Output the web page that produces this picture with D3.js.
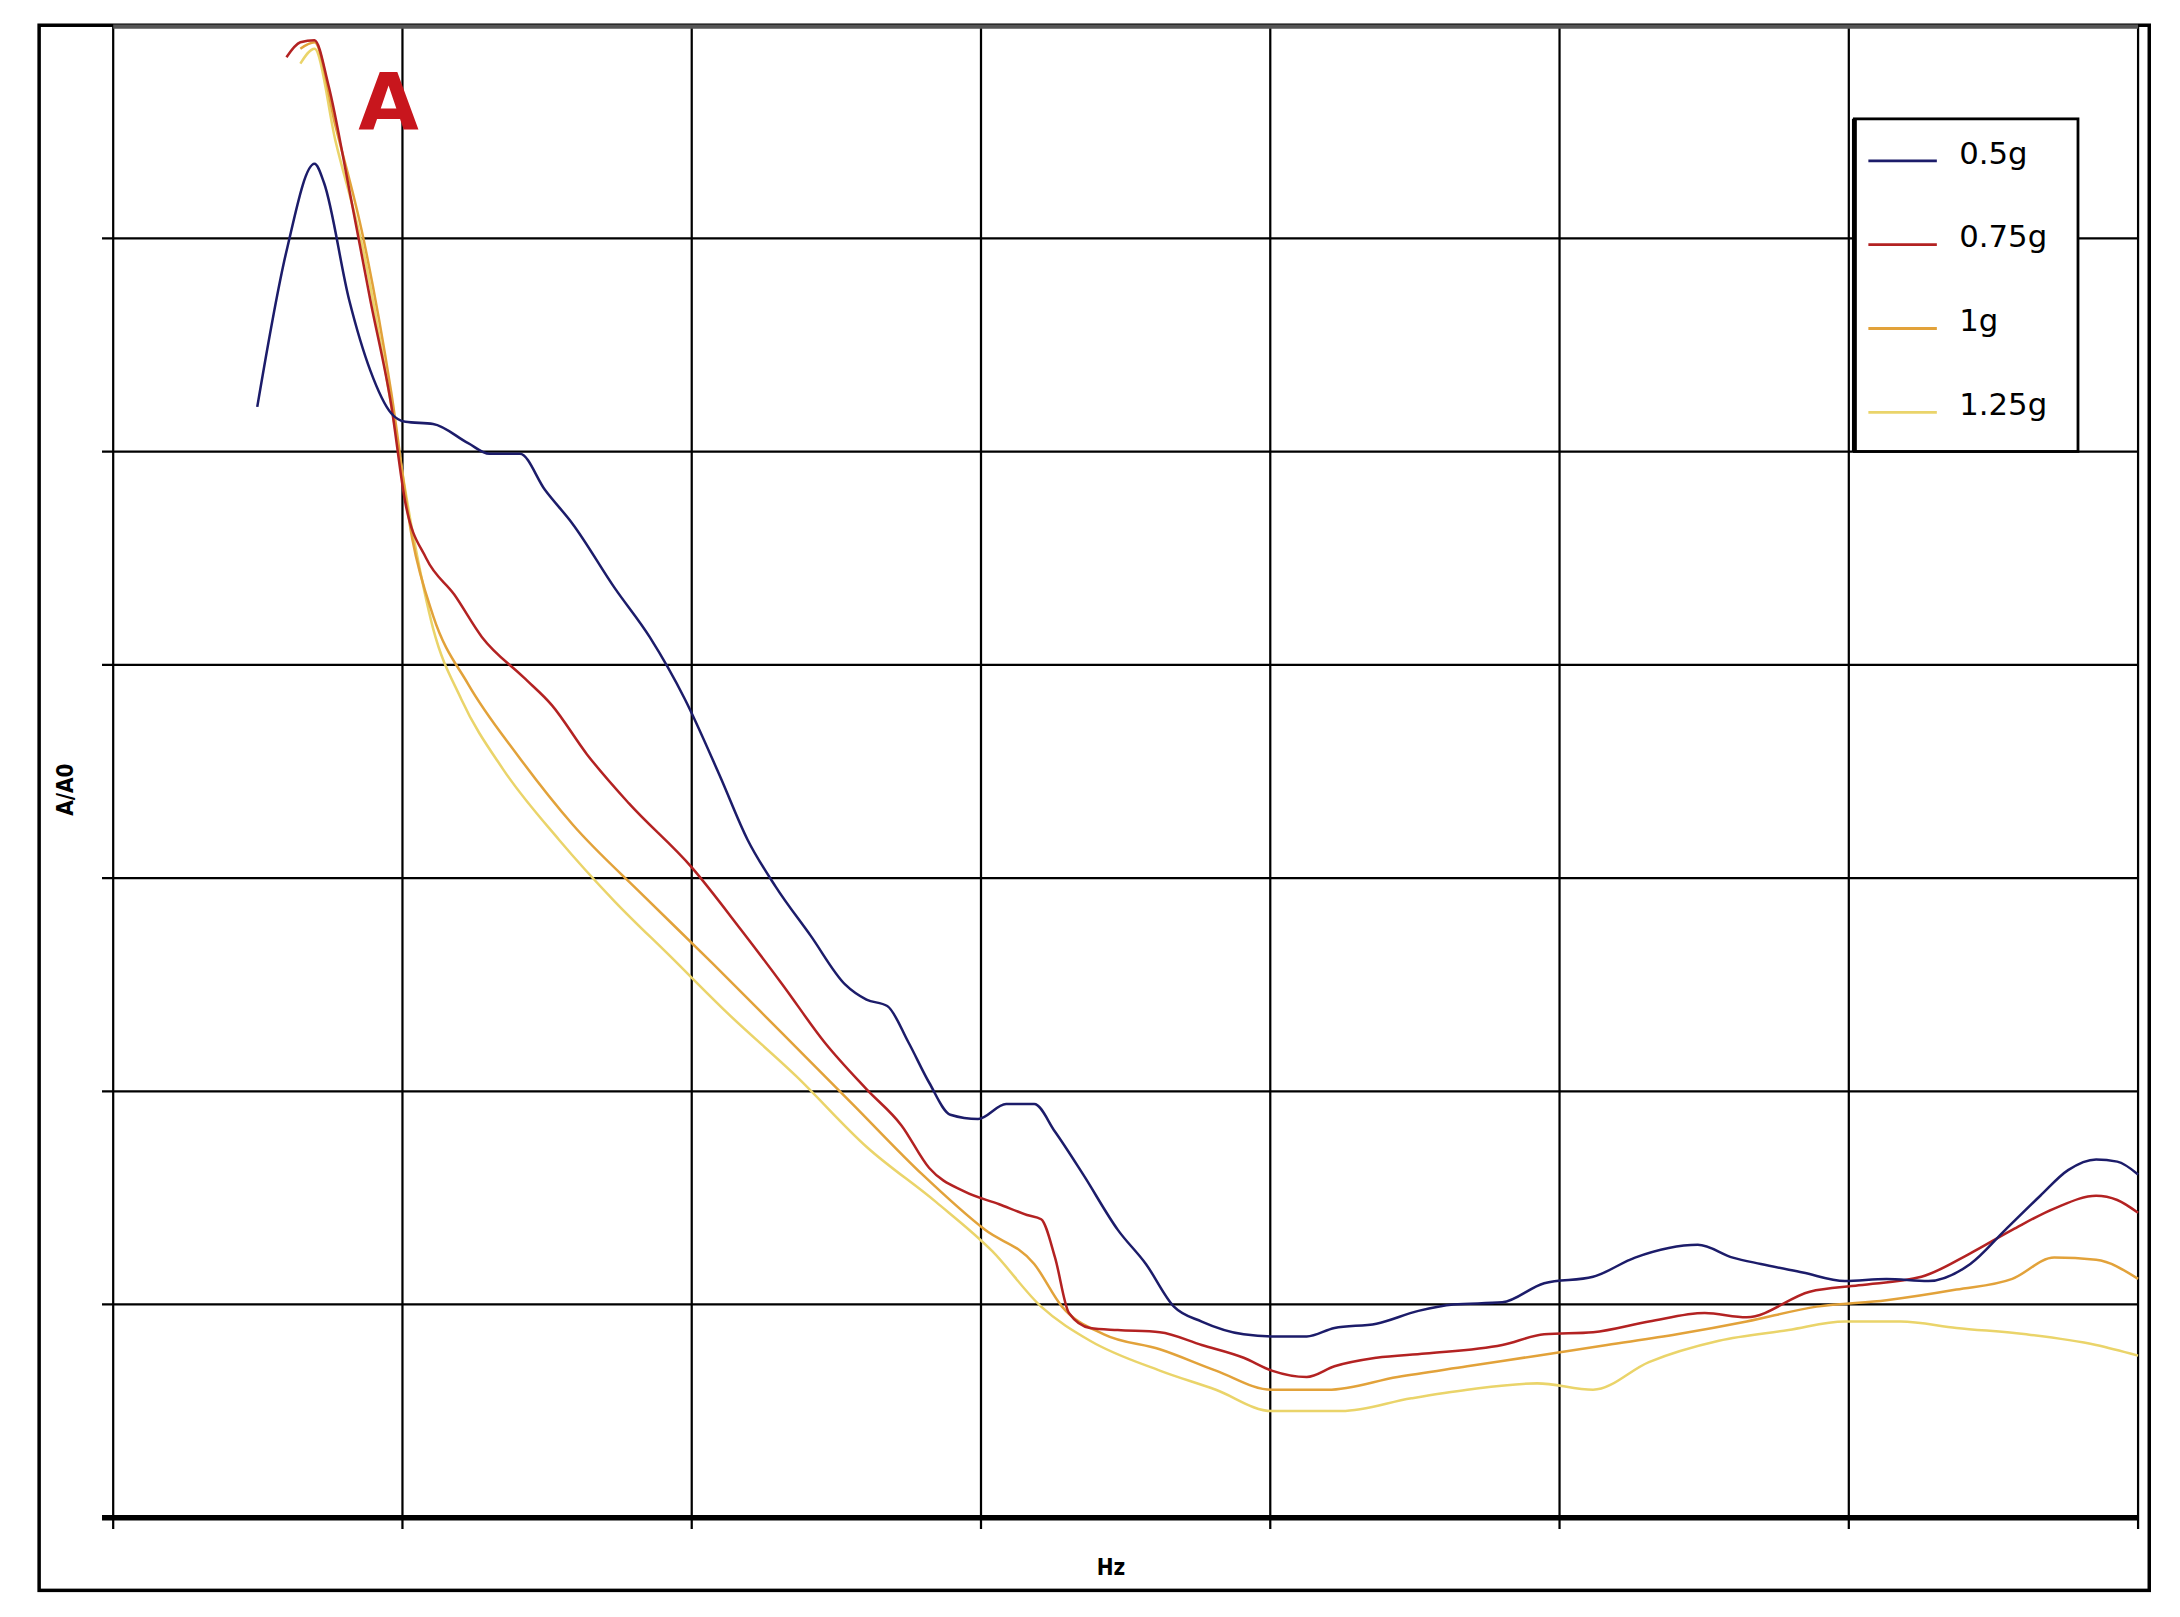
<!DOCTYPE html>
<html><head><meta charset="utf-8">
<script src="https://cdnjs.cloudflare.com/ajax/libs/d3/7.8.5/d3.min.js"></script>
<style>body{margin:0;background:#fff}</style>
</head><body>
<svg id="chart" width="2180" height="1617" viewBox="0 0 1560 1157"></svg>
<script>
// series values [x, y] in grid units (x: 0..70, y: 0..7)
var s05 = [[4.98,5.21],[5.99,5.94],[6.96,6.35],[7.29,6.26],[8.16,5.71],[8.89,5.38],[9.61,5.18],[10.1,5.14],[11.06,5.13],[12.27,5.04],[13.0,4.99],[14.06,4.99],[14.93,4.82],[15.89,4.66],[17.34,4.36],[18.55,4.13],[19.76,3.84],[20.97,3.48],[21.93,3.18],[22.9,2.96],[24.11,2.73],[25.31,2.50],[26.04,2.43],[26.76,2.40],[27.49,2.23],[28.21,2.04],[28.94,1.89],[29.9,1.87],[30.87,1.94],[31.84,1.94],[32.56,1.81],[33.53,1.61],[34.73,1.35],[35.7,1.19],[36.67,0.99],[37.63,0.92],[39.08,0.86],[40.05,0.85],[41.26,0.85],[42.22,0.89],[43.67,0.91],[45.12,0.97],[46.33,1.00],[48.02,1.01],[49.47,1.10],[51.16,1.13],[52.61,1.22],[54.78,1.28],[55.99,1.22],[56.96,1.19],[58.41,1.15],[59.86,1.11],[61.3,1.12],[62.75,1.11],[64.2,1.19],[65.41,1.35],[66.62,1.51],[67.58,1.63],[68.55,1.68],[69.28,1.67],[70.0,1.61]];
var s075 = [[5.99,6.85],[6.47,6.92],[6.96,6.93],[7.44,6.72],[8.16,6.23],[8.89,5.71],[9.61,5.22],[10.1,4.76],[10.82,4.50],[11.79,4.33],[12.75,4.13],[14.2,3.94],[15.17,3.81],[16.38,3.58],[17.83,3.35],[20.0,3.05],[21.69,2.76],[23.14,2.50],[24.59,2.23],[26.04,2.01],[27.25,1.84],[28.21,1.64],[29.42,1.53],[30.63,1.47],[31.59,1.42],[32.08,1.40],[32.56,1.22],[33.04,0.96],[33.77,0.89],[34.73,0.88],[36.18,0.87],[37.63,0.81],[39.08,0.75],[40.05,0.69],[41.26,0.66],[42.22,0.71],[43.67,0.75],[45.36,0.77],[48.02,0.81],[49.47,0.86],[51.16,0.87],[53.09,0.92],[55.02,0.96],[56.47,0.94],[58.65,1.06],[60.34,1.09],[62.51,1.13],[64.2,1.24],[65.65,1.35],[67.1,1.45],[68.55,1.51],[69.28,1.49],[70.0,1.43]];
var s1 = [[6.47,6.89],[6.96,6.92],[7.68,6.53],[8.65,6.00],[9.61,5.28],[10.34,4.59],[11.06,4.23],[12.27,3.91],[13.96,3.58],[15.89,3.25],[18.31,2.92],[20.72,2.60],[23.14,2.27],[25.56,1.94],[27.97,1.61],[30.14,1.35],[31.84,1.19],[32.8,0.99],[34.25,0.86],[36.18,0.79],[38.12,0.69],[40.05,0.60],[41.98,0.60],[44.4,0.66],[46.81,0.71],[49.23,0.76],[51.64,0.81],[54.06,0.86],[56.47,0.92],[58.89,0.99],[61.3,1.02],[63.72,1.07],[65.65,1.12],[67.1,1.22],[68.55,1.21],[70.0,1.12]];
var s125 = [[6.47,6.82],[6.96,6.89],[7.68,6.46],[8.65,5.94],[9.61,5.22],[10.34,4.63],[11.06,4.17],[12.03,3.84],[13.48,3.51],[15.41,3.18],[17.34,2.89],[19.28,2.63],[21.21,2.37],[23.62,2.07],[26.04,1.74],[28.45,1.48],[30.39,1.25],[32.08,0.99],[33.77,0.83],[36.18,0.69],[38.12,0.60],[40.05,0.50],[42.46,0.50],[44.88,0.56],[46.81,0.60],[49.23,0.63],[51.16,0.60],[53.09,0.73],[55.51,0.83],[57.92,0.88],[59.86,0.92],[61.79,0.92],[63.72,0.89],[66.14,0.86],[68.55,0.81],[70.0,0.76]];
var seriesNames = ["0.5g", "0.75g", "1g", "1.25g"];
var seriesColors = ["#1c1c6a", "#b32222", "#e2a23a", "#ead46a"];
var xTicks = [0,10,20,30,40,50,60,70];
var yTicks = [0,1,2,3,4,5,6,7];

var svg = d3.select("#chart");
var x = d3.scaleLinear().domain([0,70]).range([81,1530]);
var y = d3.scaleLinear().domain([0,7]).range([1086,18]);

// outer frame
svg.append("rect").attr("x",28).attr("y",18).attr("width",1510).attr("height",1120)
    .attr("fill","none").attr("stroke","#000").attr("stroke-width",2.5);

// grid
svg.selectAll(".vg").data(xTicks).enter().append("line")
    .attr("x1",function(d){return x(d);}).attr("x2",function(d){return x(d);})
    .attr("y1",18).attr("y2",1094).attr("stroke","#000").attr("stroke-width",1.6);
svg.selectAll(".hg").data(yTicks).enter().append("line")
    .attr("x1",73).attr("x2",1530)
    .attr("y1",function(d){return y(d);}).attr("y2",function(d){return y(d);})
    .attr("stroke","#000").attr("stroke-width",function(d){return d===0?4:1.6;});
svg.append("line").attr("x1",81).attr("x2",1530).attr("y1",19).attr("y2",19)
    .attr("stroke","#555").attr("stroke-width",3);

var line = d3.line().x(function(d){return x(d[0]);}).y(function(d){return y(d[1]);})
    .curve(d3.curveMonotoneX);
var all = [s05, s075, s1, s125];
// draw from back to front so the blue line is on top
[3,2,1,0].forEach(function(i){
    svg.append("path").datum(all[i]).attr("d",line).attr("fill","none")
        .attr("stroke",seriesColors[i]).attr("stroke-width",1.8);
});

// annotation
svg.append("text").attr("x",278).attr("y",92).attr("text-anchor","middle")
    .attr("font-family","DejaVu Sans").attr("font-weight","bold").attr("font-size",56)
    .attr("fill","#c8161d").text("A");

// axis labels
svg.append("text").attr("x",795).attr("y",1127).attr("text-anchor","middle")
    .attr("font-family","DejaVu Sans Condensed").attr("font-weight","bold").attr("font-size",16).text("Hz");
svg.append("text").attr("transform","translate(52,565) rotate(-90)").attr("text-anchor","middle")
    .attr("font-family","DejaVu Sans Condensed").attr("font-weight","bold").attr("font-size",16).text("A/A0");

// legend
var lg = svg.append("g");
lg.append("rect").attr("x",1327).attr("y",85).attr("width",160).attr("height",238)
    .attr("fill","#fff").attr("stroke","#000").attr("stroke-width",2);
lg.append("line").attr("x1",1327).attr("x2",1327).attr("y1",85).attr("y2",323)
    .attr("stroke","#000").attr("stroke-width",3.5);
seriesNames.forEach(function(n,i){
    var yy = 115 + i*60;
    lg.append("line").attr("x1",1337).attr("x2",1386).attr("y1",yy).attr("y2",yy)
        .attr("stroke",seriesColors[i]).attr("stroke-width",2);
    lg.append("text").attr("x",1402).attr("y",yy+2).attr("font-family","DejaVu Sans")
        .attr("font-size",22).text(n);
});
</script>
</body></html>
